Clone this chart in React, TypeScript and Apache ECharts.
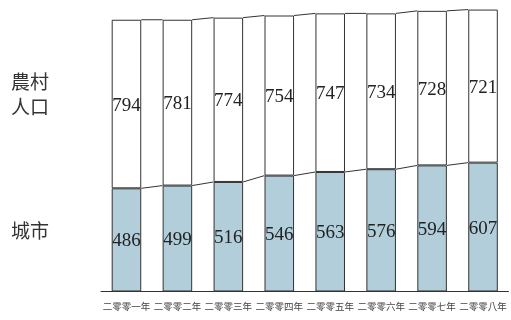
import React, { useEffect, useRef } from "react";
import * as echarts from "echarts";

const categories = ["二零零一年", "二零零二年", "二零零三年", "二零零四年", "二零零五年", "二零零六年", "二零零七年", "二零零八年"];
const cityValues = [486, 499, 516, 546, 563, 576, 594, 607];
const ruralValues = [794, 781, 774, 754, 747, 734, 728, 721];
const ruralLabelLines = ["農村", "人口"];
const cityLabel = "城市";

const BAR_RATIO = 0.58;

export default function App() {
  const ref = useRef<HTMLDivElement>(null);
  useEffect(() => {
    if (!ref.current) return;
    const chart = echarts.init(ref.current, null, { renderer: "svg" });
    const totals = cityValues.map((v, i) => v + ruralValues[i]);
    const connData = categories.slice(0, -1).map((_, i) => [i, cityValues[i], totals[i], cityValues[i + 1], totals[i + 1]]);
    const labelStyle = {
      show: true,
      position: "inside",
      fontFamily: "Liberation Serif",
      fontSize: 19,
      color: "#222",
    };
    const sideText = { fontFamily: "Noto Sans CJK TC", fontSize: 19, fill: "#333" };
    chart.setOption({
      animation: false,
      grid: { left: 101, right: 2.5, top: 4.9, bottom: 28.5 },
      xAxis: {
        type: "category",
        data: categories,
        axisTick: { show: false },
        axisLine: { lineStyle: { color: "#333", width: 1 } },
        axisLabel: { fontFamily: "Noto Sans CJK TC", fontSize: 9.5, color: "#444", margin: 10, interval: 0 },
      },
      yAxis: { type: "value", min: 0, max: 1350, show: false, splitLine: { show: false } },
      series: [
        {
          type: "bar",
          stack: "a",
          data: cityValues,
          barWidth: BAR_RATIO * 100 + "%",
          itemStyle: { color: "#b1ceda", borderColor: "#333", borderWidth: 1 },
          label: labelStyle,
        },
        {
          type: "bar",
          stack: "a",
          data: ruralValues,
          barWidth: BAR_RATIO * 100 + "%",
          itemStyle: { color: "#ffffff", borderColor: "#333", borderWidth: 1 },
          label: labelStyle,
        },
        {
          type: "custom",
          data: connData,
          encode: { x: 0, y: 2 },
          z: 5,
          renderItem: (params: any, api: any) => {
            const i = api.value(0);
            const bw = api.size([1, 0])[0] * BAR_RATIO;
            const a1 = api.coord([i, api.value(1)]);
            const a2 = api.coord([i + 1, api.value(3)]);
            const b1 = api.coord([i, api.value(2)]);
            const b2 = api.coord([i + 1, api.value(4)]);
            const style = { stroke: "#333", lineWidth: 1 };
            return {
              type: "group",
              children: [
                { type: "line", shape: { x1: a1[0] + bw / 2, y1: a1[1], x2: a2[0] - bw / 2, y2: a2[1] }, style },
                { type: "line", shape: { x1: b1[0] + bw / 2, y1: b1[1], x2: b2[0] - bw / 2, y2: b2[1] }, style },
              ],
            };
          },
        },
      ],
      graphic: [
        { type: "text", left: 11, top: 71, style: { text: ruralLabelLines[0], ...sideText } },
        { type: "text", left: 11, top: 96, style: { text: ruralLabelLines[1], ...sideText } },
        { type: "text", left: 11, top: 220, style: { text: cityLabel, ...sideText } },
      ],
    });
    return () => chart.dispose();
  }, []);
  return <div ref={ref} style={{ position: "fixed", left: 0, top: 0, width: 511, height: 320 }} />;
}
